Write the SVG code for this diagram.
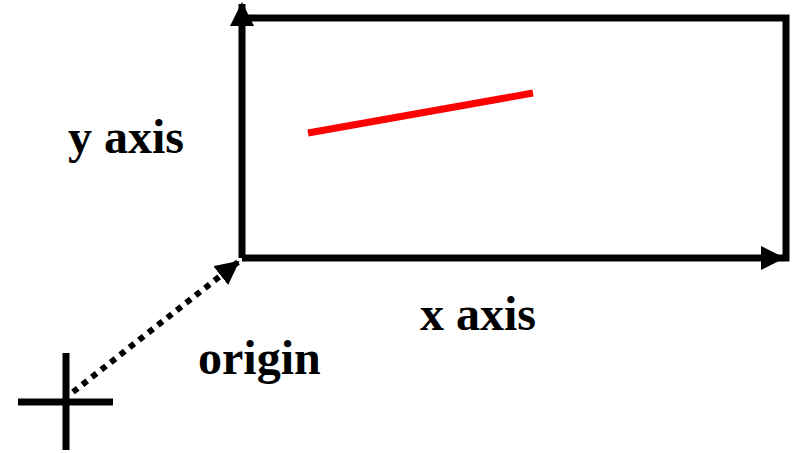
<svg xmlns="http://www.w3.org/2000/svg" width="794" height="453" viewBox="0 0 794 453">
<style>
.ln{stroke:#000;stroke-width:7;fill:none}
.lbl{font-family:"Liberation Serif","Times New Roman",serif;font-weight:bold;font-size:48px;fill:#000}
</style>
<defs>
<marker id="ah" markerUnits="userSpaceOnUse" markerWidth="24" markerHeight="24" refX="22" refY="12" orient="auto" viewBox="0 0 24 24">
<path d="M0,0 L24,12 L0,24 Z" fill="#000"/>
</marker>
</defs>
<rect width="794" height="453" fill="#fff"/>
<g id="frame">
<path class="ln" d="M242,18 H786 V258" stroke-linecap="square"/>
</g>
<g id="connectors">
<line class="ln" x1="242" y1="258" x2="242" y2="4" marker-end="url(#ah)"/>
<line class="ln" x1="242" y1="258" x2="783" y2="258" marker-end="url(#ah)"/>
<line x1="73" y1="392" x2="238" y2="262" stroke="#000" stroke-width="6" stroke-dasharray="6 6" marker-end="url(#ah)"/>
</g>
<g id="red-line">
<line x1="308" y1="133" x2="533" y2="93" stroke="#f00" stroke-width="7"/>
</g>
<g id="origin-mark">
<line class="ln" x1="66" y1="353" x2="66" y2="450" stroke-width="8"/>
<line class="ln" x1="18" y1="402" x2="113" y2="402" stroke-width="8"/>
</g>
<g id="labels">
<text class="lbl" x="68" y="153">y axis</text>
<text class="lbl" x="420" y="330">x axis</text>
<text class="lbl" x="198" y="374">origin</text>
</g>
</svg>
